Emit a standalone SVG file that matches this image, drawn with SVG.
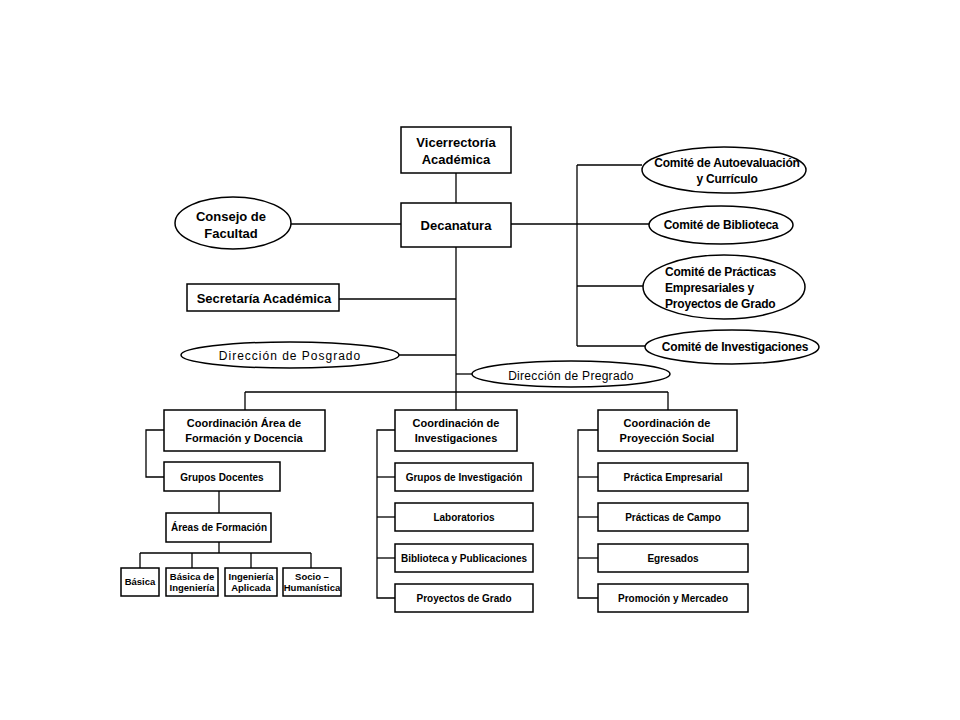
<svg xmlns="http://www.w3.org/2000/svg" width="960" height="720" viewBox="0 0 960 720">
  <style>
    .box { fill: #fff; stroke: #000; stroke-width: 1.5; }
    .ell { fill: #fff; stroke: #000; stroke-width: 1.5; }
    .ln { fill: none; stroke: #000; stroke-width: 1.3; }
    text { font-family: "Liberation Sans", Arial, sans-serif; fill: #000; }
    .t13 { font-size: 13px; font-weight: bold; text-anchor: middle; }
    .t12 { font-size: 12px; font-weight: bold; text-anchor: middle; letter-spacing: -0.2px; }
    .t12l { font-size: 12px; font-weight: bold; text-anchor: start; letter-spacing: -0.2px; }
    .t11 { font-size: 11px; font-weight: bold; text-anchor: middle; }
    .t10 { font-size: 10px; font-weight: bold; text-anchor: middle; }
    .t9 { font-size: 9.5px; font-weight: bold; text-anchor: middle; }
    .reg { font-size: 12px; text-anchor: middle; }
  </style>
  <rect width="960" height="720" fill="#fff"/>

  <!-- connectors -->
  <g id="connectors" class="ln">
    <path d="M456 173 V203"/>
    <path d="M456 247 V410"/>
    <path d="M291 224 H401"/>
    <path d="M511 224 H577"/>
    <path d="M577 165 V346"/>
    <path d="M577 165 H642"/>
    <path d="M577 224 H649"/>
    <path d="M577 286 H643"/>
    <path d="M577 346 H645"/>
    <path d="M339 299 H456"/>
    <path d="M399 355 H456"/>
    <path d="M456 374 H472"/>
    <path d="M245 392 H668"/>
    <path d="M245 392 V410"/>
    <path d="M668 392 V410"/>
    <!-- formación y docencia branch -->
    <path d="M164 430 H146 V477 H164"/>
    <path d="M219 491 V513"/>
    <path d="M219 542 V553"/>
    <path d="M140 553 H311"/>
    <path d="M140 553 V568"/>
    <path d="M192 553 V568"/>
    <path d="M251 553 V568"/>
    <path d="M311 553 V568"/>
    <!-- investigaciones branch -->
    <path d="M395 430 H377 V598 H395"/>
    <path d="M377 477 H395"/>
    <path d="M377 517 H395"/>
    <path d="M377 558 H395"/>
    <!-- proyección social branch -->
    <path d="M598 430 H578 V598 H598"/>
    <path d="M578 477 H598"/>
    <path d="M578 517 H598"/>
    <path d="M578 558 H598"/>
  </g>

  <g id="vicerrectoria">
    <rect class="box" x="401" y="127" width="110" height="46"/>
    <text class="t13" x="456" y="147">Vicerrectoría</text>
    <text class="t13" x="456" y="164">Académica</text>
  </g>

  <g id="decanatura">
    <rect class="box" x="401" y="203" width="110" height="44"/>
    <text class="t13" x="456" y="230">Decanatura</text>
  </g>

  <g id="consejo">
    <ellipse class="ell" cx="233" cy="223" rx="58" ry="26"/>
    <text class="t13" x="231" y="221">Consejo de</text>
    <text class="t13" x="231" y="238">Facultad</text>
  </g>

  <g id="secretaria">
    <rect class="box" x="187" y="284" width="152" height="27"/>
    <text class="t13" x="264" y="303">Secretaría Académica</text>
  </g>

  <g id="posgrado">
    <ellipse class="ell" cx="290" cy="355" rx="109" ry="13" stroke-width="1"/>
    <text class="reg" x="290" y="360" letter-spacing="1">Dirección de Posgrado</text>
  </g>

  <g id="pregrado">
    <ellipse class="ell" cx="571" cy="374" rx="99" ry="13" stroke-width="1"/>
    <text class="reg" x="571" y="380" letter-spacing="0.3">Dirección de Pregrado</text>
  </g>

  <g id="comite-autoevaluacion">
    <ellipse class="ell" cx="724" cy="170" rx="82" ry="23"/>
    <text class="t12" x="727" y="167">Comité de Autoevaluación</text>
    <text class="t12" x="727" y="183">y Currículo</text>
  </g>

  <g id="comite-biblioteca">
    <ellipse class="ell" cx="721" cy="225" rx="72" ry="19"/>
    <text class="t12" x="721" y="229">Comité de Biblioteca</text>
  </g>

  <g id="comite-practicas">
    <ellipse class="ell" cx="724" cy="287" rx="81" ry="32"/>
    <text class="t12l" x="665" y="276">Comité de Prácticas</text>
    <text class="t12l" x="665" y="292">Empresariales y</text>
    <text class="t12l" x="665" y="308">Proyectos de Grado</text>
  </g>

  <g id="comite-investigaciones">
    <ellipse class="ell" cx="732" cy="347" rx="87" ry="17"/>
    <text class="t12" x="735" y="351">Comité de Investigaciones</text>
  </g>

  <g id="coord-formacion">
    <rect class="box" x="164" y="410" width="161" height="41"/>
    <text class="t11" x="244" y="427">Coordinación Área de</text>
    <text class="t11" x="244" y="442">Formación y Docencia</text>
  </g>

  <g id="grupos-docentes">
    <rect class="box" x="164" y="462" width="116" height="29"/>
    <text class="t10" x="222" y="481">Grupos Docentes</text>
  </g>

  <g id="areas-formacion">
    <rect class="box" x="166" y="513" width="105" height="29"/>
    <text class="t10" x="219" y="531">Áreas de Formación</text>
  </g>

  <g id="basica">
    <rect class="box" x="121" y="568" width="38" height="28"/>
    <text class="t9" x="140" y="585">Básica</text>
  </g>
  <g id="basica-ingenieria">
    <rect class="box" x="166" y="568" width="52" height="28"/>
    <text class="t9" x="192" y="580">Básica de</text>
    <text class="t9" x="192" y="591">Ingeniería</text>
  </g>
  <g id="ingenieria-aplicada">
    <rect class="box" x="225" y="568" width="52" height="28"/>
    <text class="t9" x="251" y="580">Ingeniería</text>
    <text class="t9" x="251" y="591">Aplicada</text>
  </g>
  <g id="socio-humanistica">
    <rect class="box" x="283" y="568" width="58" height="28"/>
    <text class="t9" x="312" y="580">Socio –</text>
    <text class="t9" x="312" y="591">Humanística</text>
  </g>

  <g id="coord-investigaciones">
    <rect class="box" x="395" y="410" width="122" height="41"/>
    <text class="t11" x="456" y="427">Coordinación de</text>
    <text class="t11" x="456" y="442">Investigaciones</text>
  </g>
  <g id="grupos-investigacion">
    <rect class="box" x="395" y="463" width="138" height="28"/>
    <text class="t10" x="464" y="481">Grupos de Investigación</text>
  </g>
  <g id="laboratorios">
    <rect class="box" x="395" y="503" width="138" height="28"/>
    <text class="t10" x="464" y="521">Laboratorios</text>
  </g>
  <g id="biblioteca-publicaciones">
    <rect class="box" x="395" y="544" width="138" height="28"/>
    <text class="t10" x="464" y="562">Biblioteca y Publicaciones</text>
  </g>
  <g id="proyectos-grado">
    <rect class="box" x="395" y="584" width="138" height="28"/>
    <text class="t10" x="464" y="602">Proyectos de Grado</text>
  </g>

  <g id="coord-proyeccion">
    <rect class="box" x="598" y="410" width="139" height="41"/>
    <text class="t11" x="667" y="427">Coordinación de</text>
    <text class="t11" x="667" y="442">Proyección Social</text>
  </g>
  <g id="practica-empresarial">
    <rect class="box" x="598" y="463" width="150" height="28"/>
    <text class="t10" x="673" y="481">Práctica Empresarial</text>
  </g>
  <g id="practicas-campo">
    <rect class="box" x="598" y="503" width="150" height="28"/>
    <text class="t10" x="673" y="521">Prácticas de Campo</text>
  </g>
  <g id="egresados">
    <rect class="box" x="598" y="544" width="150" height="28"/>
    <text class="t10" x="673" y="562">Egresados</text>
  </g>
  <g id="promocion-mercadeo">
    <rect class="box" x="598" y="584" width="150" height="28"/>
    <text class="t10" x="673" y="602">Promoción y Mercadeo</text>
  </g>
</svg>
